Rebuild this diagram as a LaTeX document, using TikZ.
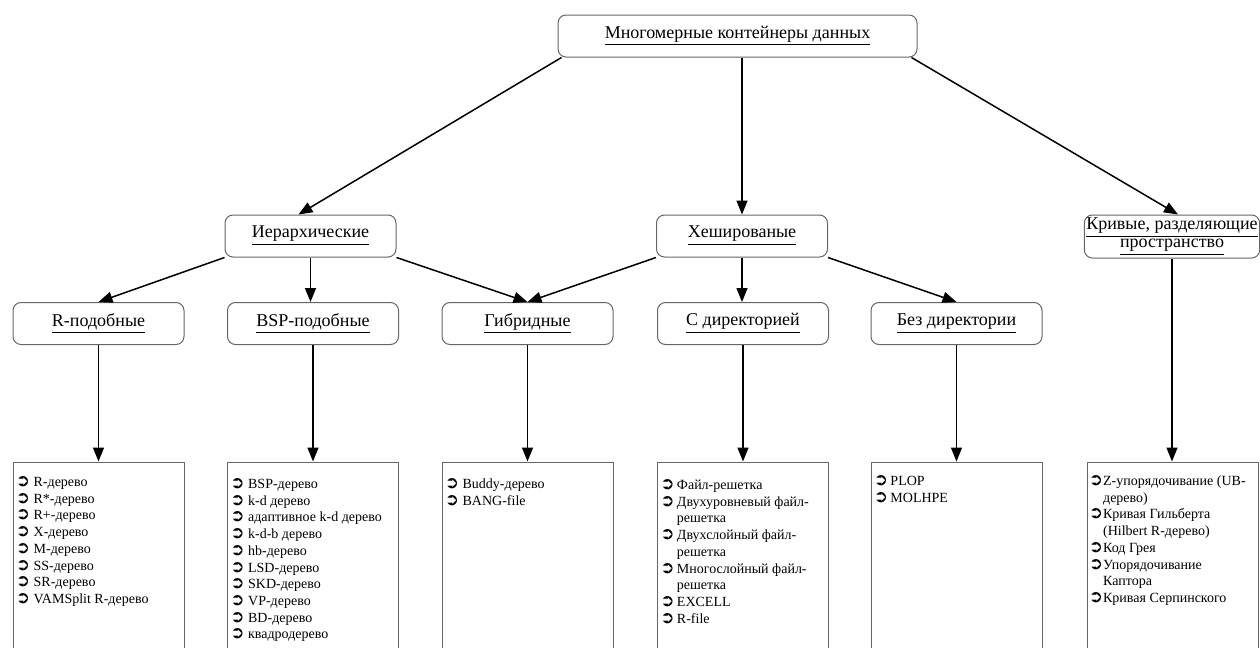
\documentclass[tikz,border=0pt]{standalone}
\usepackage{fontspec}
\setmainfont{Liberation Serif}
\newfontfamily\dingfont{DejaVu Sans}
\usetikzlibrary{arrows.meta,positioning}

\newcommand{\bul}{{\dingfont\fontsize{8.5}{8}\selectfont\char"27B2}}

\tikzset{
  catbox/.style={draw=black!60, line width=0.5pt, rounded corners=4pt, minimum width=85.5pt, minimum height=21pt, inner sep=1pt, font=\fontsize{9}{10}\selectfont, align=center},
  listbox/.style={draw=black!60, line width=0.5pt, minimum width=85.5pt, minimum height=99pt},
  items/.style={anchor=north west, inner sep=0pt, font=\fontsize{7}{8.35}\selectfont},
  link/.style={-{Triangle[length=7pt,width=5.5pt]}, line width=0.75pt},
}

\begin{document}
\begin{tikzpicture}[x=0.5pt,y=-0.5pt]
  \useasboundingbox (0,0) rectangle (1260,648);

  % Root
  \node[catbox, minimum width=179.5pt] (root) at (737.5,36) {\underline{Многомерные контейнеры данных}};

  % Second level
  \node[catbox] (hier) at (310.5,236) {\underline{Иерархические}};
  \node[catbox] (hash) at (742,236) {\underline{Хешированые}};
  \node[catbox, minimum height=21.5pt, font=\fontsize{9}{7.6}\selectfont] (sfc) at (1172,236.5) {\underline{Кривые, разделяющие}\\\underline{пространство}};

  % Third level
  \node[catbox] (rlike) at (98.5,323.5) {\underline{R-подобные}};
  \node[catbox] (bsp) at (313,323.5) {\underline{BSP-подобные}};
  \node[catbox] (hyb) at (527.5,323.5) {\underline{Гибридные}};
  \node[catbox] (dir) at (743,323.5) {\underline{С директорией}};
  \node[catbox] (nodir) at (956.5,323.5) {\underline{Без директории}};

  % List boxes
  \foreach \n/\x in {lr/98.5, lbsp/313, lhyb/527.5, ldir/743, lnodir/956.5, lsfc/1172.5}
    \node[listbox] (\n) at (\x,561) {};

  % Lists
  \node[items] (ir) at ([shift={(3,13)}]lr.north west) {\begin{tabular}{@{}l@{\ }l@{}}
    \bul & R-дерево\\ \bul & R*-дерево\\ \bul & R+-дерево\\ \bul & X-дерево\\
    \bul & M-дерево\\ \bul & SS-дерево\\ \bul & SR-дерево\\ \bul & VAMSplit R-дерево
  \end{tabular}};
  \node[items] (ibsp) at ([shift={(3,15)}]lbsp.north west) {\begin{tabular}{@{}l@{\ }l@{}}
    \bul & BSP-дерево\\ \bul & k-d дерево\\ \bul & адаптивное k-d дерево\\ \bul & k-d-b дерево\\
    \bul & hb-дерево\\ \bul & LSD-дерево\\ \bul & SKD-дерево\\ \bul & VP-дерево\\
    \bul & BD-дерево\\ \bul & квадродерево
  \end{tabular}};
  \node[items] (ihyb) at ([shift={(3,15)}]lhyb.north west) {\begin{tabular}{@{}l@{\ }l@{}}
    \bul & Buddy-дерево\\ \bul & BANG-file
  \end{tabular}};
  \node[items] (idir) at ([shift={(3,16)}]ldir.north west) {\begin{tabular}{@{}l@{\,}l@{}}
    \bul & Файл-решетка\\ \bul & Двухуровневый файл-\\ & решетка\\
    \bul & Двухслойный файл-\\ & решетка\\ \bul & Многослойный файл-\\ & решетка\\
    \bul & EXCELL\\ \bul & R-file
  \end{tabular}};
  \node[items] (inodir) at ([shift={(3,12)}]lnodir.north west) {\begin{tabular}{@{}l@{\,}l@{}}
    \bul & PLOP\\ \bul & MOLHPE
  \end{tabular}};
  \node[items] (isfc) at ([shift={(2,12)}]lsfc.north west) {\begin{tabular}{@{}l@{}l@{}}
    \bul & Z-упорядочивание (UB-\\ & дерево)\\ \bul & Кривая Гильберта\\ & (Hilbert R-дерево)\\
    \bul & Код Грея\\ \bul & Упорядочивание\\ & Каптора\\ \bul & Кривая Серпинского
  \end{tabular}};

  % Connectors
  \draw[link] ([xshift=2pt]root.south west) -- ([xshift=-6pt]hier.north);
  \draw[link] (root.south -| hash.north) -- (hash.north);
  \draw[link] ([xshift=-3pt]root.south east) -- ([xshift=3pt]sfc.north);
  \draw[link] (hier.south west) -- (rlike.north);
  \draw[link] (hier.south) -- (hier.south |- bsp.north);
  \draw[link] (hier.south east) -- (hyb.north);
  \draw[link] (hash.south west) -- (hyb.north);
  \draw[link] (hash.south) -- (hash.south |- dir.north);
  \draw[link] (hash.south east) -- (nodir.north);
  \foreach \a/\b in {rlike/lr, bsp/lbsp, hyb/lhyb, dir/ldir, nodir/lnodir, sfc/lsfc}
    \draw[link] (\a.south) -- (\a.south |- \b.north);
\end{tikzpicture}
\end{document}
